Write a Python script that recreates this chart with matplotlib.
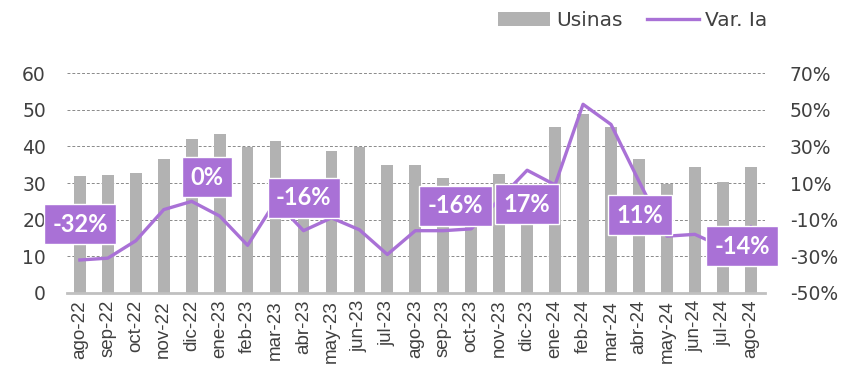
import numpy as np
import matplotlib
matplotlib.use("Agg")
import matplotlib.pyplot as plt
from matplotlib.patches import Patch
from matplotlib.lines import Line2D

# monthly data
meses = ["ago-22", "sep-22", "oct-22", "nov-22", "dic-22", "ene-23", "feb-23",
         "mar-23", "abr-23", "may-23", "jun-23", "jul-23", "ago-23", "sep-23",
         "oct-23", "nov-23", "dic-23", "ene-24", "feb-24", "mar-24", "abr-24",
         "may-24", "jun-24", "jul-24", "ago-24"]
usinas = [32, 32.1, 32.7, 36.5, 41.9, 43.3, 39.9, 41.5, 29, 38.7, 39.9, 34.9,
          34.8, 31.3, 28, 32.4, 28, 45.2, 48.8, 45.3, 36.5, 29.7, 34.5, 30.3, 34.5]
var_ia = [-32, -31, -21.5, -4.5, 0, -8, -24, 0, -16, -9, -15.5, -29,
          -16, -16, -15, 1, 17, 9, 53, 42, 11, -19, -18, -25, -14]

# months that get a value box, and where each box sits (x index, y in %)
etiquetas = [0, 4, 8, 12, 16, 20, 24]
pos_etiq = [(0, -12.6), (4.56, 13.3), (8.01, 2.1), (13.43, -2.3),
            (15.99, -1.7), (20.03, -7.7), (23.69, -24.4)]

gris = "#b2b2b2"
violeta = "#a971d6"
texto = "#404040"

fig = plt.figure(figsize=(8.45, 3.79), dpi=100)
ax = fig.add_axes([0.079, 0.227, 0.826, 0.580])
ax2 = ax.twinx()

x = np.arange(len(meses))
ax.bar(x, usinas, width=0.42, color=gris, zorder=2)
ax.set_ylim(0, 60)
ax.set_yticks(np.arange(0, 61, 10))
ax.set_xlim(-0.47, 24.5)
ax.set_xticks(x)
ax.set_xticklabels(meses, rotation=90, family="Liberation Sans",
                   fontsize=14.5, color=texto)
ax.grid(axis="y", linestyle=(0, (3, 2)), color="#8a8a8a", linewidth=0.7, zorder=0)
ax.set_axisbelow(True)

ax2.plot(x, var_ia, color=violeta, linewidth=2.4, zorder=3)
ax2.set_ylim(-50, 70)
ax2.set_yticks(np.arange(-50, 71, 20))
ax2.set_yticklabels([f"{v}%" for v in range(-50, 71, 20)])

for a in (ax, ax2):
    for s in a.spines.values():
        s.set_visible(False)
    a.tick_params(length=0, labelsize=13.5, labelcolor=texto)
ax.spines["bottom"].set_visible(True)
ax.spines["bottom"].set_color("#c0c0c0")
ax.spines["bottom"].set_linewidth(2)
ax.tick_params(axis="y", pad=15)
ax.tick_params(axis="x", pad=5)
ax2.tick_params(axis="y", pad=18)

for i, (px, py) in zip(etiquetas, pos_etiq):
    ax2.text(px, py, f"{var_ia[i]:.0f}%", ha="center", va="center",
             family="Lato", weight="bold", fontsize=17, color="white", zorder=5,
             bbox=dict(boxstyle="square,pad=0.36", facecolor=violeta,
                       edgecolor="white", linewidth=1))

handles = [Patch(facecolor=gris, edgecolor="none"),
           Line2D([], [], color=violeta, linewidth=2.4)]
fig.legend(handles, ["Usinas", "Var. Ia"], loc="center right",
           bbox_to_anchor=(0.93, 0.945), ncol=2, frameon=False,
           fontsize=14.5, handlelength=2.6, handletextpad=0.3,
           columnspacing=1.2, labelcolor=texto)

fig.savefig("out.png", dpi=100)
